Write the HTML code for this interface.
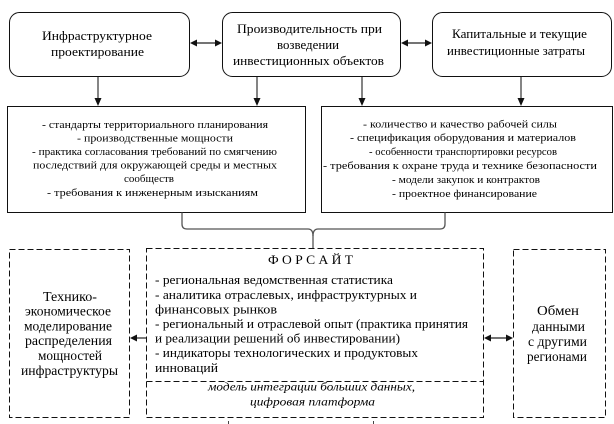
<!DOCTYPE html>
<html>
<head>
<meta charset="utf-8">
<style>
html,body{margin:0;padding:0;background:#fff;}
svg{display:block;}
text{font-family:"Liberation Serif","DejaVu Serif",serif;fill:#000;}
</style>
</head>
<body>
<svg width="614" height="424" viewBox="0 0 614 424" xmlns="http://www.w3.org/2000/svg">
<rect width="614" height="424" fill="#fff"/>

<!-- Top rounded boxes -->
<rect x="9.5" y="12.5" width="180" height="64" rx="10" ry="10" fill="#fff" stroke="#111" stroke-width="1"/>
<rect x="222.5" y="12.5" width="178" height="64" rx="10" ry="10" fill="#fff" stroke="#111" stroke-width="1"/>
<rect x="432.5" y="12.5" width="179" height="64" rx="10" ry="10" fill="#fff" stroke="#111" stroke-width="1"/>

<g font-size="13" text-anchor="start">
<text x="42" y="40" textLength="110" lengthAdjust="spacingAndGlyphs">Инфраструктурное</text>
<text x="51" y="56" textLength="93" lengthAdjust="spacingAndGlyphs">проектирование</text>

<text x="237" y="33" textLength="145" lengthAdjust="spacingAndGlyphs">Производительность при</text>
<text x="277" y="49" textLength="62" lengthAdjust="spacingAndGlyphs">возведении</text>
<text x="233" y="65" textLength="151" lengthAdjust="spacingAndGlyphs">инвестиционных  объектов</text>

<text x="452" y="38" textLength="135" lengthAdjust="spacingAndGlyphs">Капитальные и текущие</text>
<text x="447" y="55" textLength="138" lengthAdjust="spacingAndGlyphs">инвестиционные затраты</text>
</g>

<!-- horizontal double arrows top -->
<g stroke="#222" stroke-width="1.2">
<line x1="192" y1="43" x2="220" y2="43"/>
<line x1="403" y1="43" x2="430" y2="43"/>
</g>
<g fill="#111">
<polygon points="190,43 197,39.5 197,46.5"/>
<polygon points="222,43 215,39.5 215,46.5"/>
<polygon points="401,43 408,39.5 408,46.5"/>
<polygon points="432,43 425,39.5 425,46.5"/>
</g>

<!-- down arrows -->
<g stroke="#333" stroke-width="1.2">
<line x1="98" y1="77" x2="98" y2="100"/>
<line x1="257" y1="77" x2="257" y2="100"/>
<line x1="362" y1="77" x2="362" y2="100"/>
<line x1="521" y1="77" x2="521" y2="100"/>
</g>
<g fill="#111">
<polygon points="98,106 94.5,98 101.5,98"/>
<polygon points="257,106 253.5,98 260.5,98"/>
<polygon points="362,106 358.5,98 365.5,98"/>
<polygon points="521,106 517.5,98 524.5,98"/>
</g>

<!-- Row 2 boxes -->
<rect x="7.5" y="106.5" width="298" height="106" fill="#fff" stroke="#111" stroke-width="1"/>
<rect x="321.5" y="106.5" width="291" height="106" fill="#fff" stroke="#111" stroke-width="1"/>

<g font-size="11">
<text x="42" y="128" textLength="226" lengthAdjust="spacingAndGlyphs">- стандарты  территориального  планирования</text>
<text x="77" y="141.5" textLength="156" lengthAdjust="spacingAndGlyphs">- производственные  мощности</text>
<text x="32" y="155" textLength="245" lengthAdjust="spacingAndGlyphs">- практика согласования  требований  по смягчению</text>
<text x="33" y="168.5" textLength="244" lengthAdjust="spacingAndGlyphs">последствий для окружающей среды и местных</text>
<text x="149" y="182" text-anchor="middle">сообществ</text>
<text x="47" y="196" textLength="211" lengthAdjust="spacingAndGlyphs">- требования к инженерным  изысканиям</text>

<text x="363" y="127.5" textLength="194" lengthAdjust="spacingAndGlyphs">- количество и качество рабочей силы</text>
<text x="350" y="141" textLength="226" lengthAdjust="spacingAndGlyphs">- спецификация оборудования и материалов</text>
<text x="369" y="155" textLength="188" lengthAdjust="spacingAndGlyphs">- особенности транспортировки ресурсов</text>
<text x="323" y="169" textLength="274" lengthAdjust="spacingAndGlyphs">- требования к охране труда и технике безопасности</text>
<text x="392" y="183" textLength="148" lengthAdjust="spacingAndGlyphs">- модели закупок и контрактов</text>
<text x="392" y="197" textLength="145" lengthAdjust="spacingAndGlyphs">- проектное финансирование</text>
</g>

<!-- brace connector -->
<path d="M182,212.5 L182,224 Q182,229 187,229 L308,229 Q313,229 313,236 L313,248" fill="none" stroke="#555" stroke-width="1.3"/>
<path d="M445,212.5 L445,224 Q445,229 440,229 L318,229 Q313,229 313,236" fill="none" stroke="#555" stroke-width="1.3"/>

<!-- Bottom dashed boxes -->
<g fill="none" stroke="#111" stroke-width="1" stroke-dasharray="6 3">
<rect x="9.5" y="249.5" width="120" height="168"/>
<rect x="146.5" y="248.5" width="337" height="169"/>
<line x1="146.5" y1="381.5" x2="483.5" y2="381.5"/>
<rect x="513.5" y="249.5" width="92" height="168"/>
</g>

<!-- Left box text -->
<g font-size="13.5">
<text x="43" y="301" textLength="54" lengthAdjust="spacingAndGlyphs">Технико-</text>
<text x="25" y="315.5" textLength="86" lengthAdjust="spacingAndGlyphs">экономическое</text>
<text x="24" y="330.5" textLength="88" lengthAdjust="spacingAndGlyphs">моделирование</text>
<text x="25" y="345" textLength="87" lengthAdjust="spacingAndGlyphs">распределения</text>
<text x="38" y="360" textLength="64" lengthAdjust="spacingAndGlyphs">мощностей</text>
<text x="21" y="375" textLength="97" lengthAdjust="spacingAndGlyphs">инфраструктуры</text>
</g>

<!-- Right box text -->
<g font-size="13.5">
<text x="537" y="315" textLength="42" lengthAdjust="spacingAndGlyphs">Обмен</text>
<text x="532" y="331" textLength="53" lengthAdjust="spacingAndGlyphs">данными</text>
<text x="528" y="346" textLength="59" lengthAdjust="spacingAndGlyphs">с другими</text>
<text x="527" y="361" textLength="60" lengthAdjust="spacingAndGlyphs">регионами</text>
</g>

<!-- Foresight text -->
<g font-size="13">
<text x="268" y="264" textLength="85" lengthAdjust="spacingAndGlyphs">Ф О Р С А Й Т</text>
<text x="155" y="284" textLength="238" lengthAdjust="spacingAndGlyphs">- региональная ведомственная статистика</text>
<text x="155" y="299" textLength="262" lengthAdjust="spacingAndGlyphs">- аналитика отраслевых, инфраструктурных и</text>
<text x="155" y="313.5" textLength="122" lengthAdjust="spacingAndGlyphs">финансовых рынков</text>
<text x="155" y="328" textLength="313" lengthAdjust="spacingAndGlyphs">- региональный и отраслевой опыт (практика принятия</text>
<text x="155" y="342.5" textLength="245" lengthAdjust="spacingAndGlyphs">и реализации решений об инвестировании)</text>
<text x="155" y="357" textLength="263" lengthAdjust="spacingAndGlyphs">- индикаторы технологических и продуктовых</text>
<text x="155" y="372" textLength="63" lengthAdjust="spacingAndGlyphs">инноваций</text>
</g>
<g font-size="12" font-style="italic">
<text x="208" y="390.5" textLength="207" lengthAdjust="spacingAndGlyphs">модель интеграции больших данных,</text>
<text x="250" y="405.5" textLength="125" lengthAdjust="spacingAndGlyphs">цифровая платформа</text>
</g>

<!-- Foresight -> left box arrow -->
<line x1="135" y1="338" x2="146" y2="338" stroke="#222" stroke-width="1.2"/>
<polygon points="130,338 137,334.5 137,341.5" fill="#111"/>

<!-- Foresight <-> exchange -->
<line x1="488" y1="338" x2="508" y2="338" stroke="#222" stroke-width="1.2"/>
<polygon points="484,338 491,334.5 491,341.5" fill="#111"/>
<polygon points="513,338 506,334.5 506,341.5" fill="#111"/>

<!-- tiny cut-off marks at bottom -->
<line x1="228.5" y1="421" x2="228.5" y2="424" stroke="#444" stroke-width="1"/>
<line x1="373.5" y1="421" x2="373.5" y2="424" stroke="#444" stroke-width="1"/>
</svg>
</body>
</html>
